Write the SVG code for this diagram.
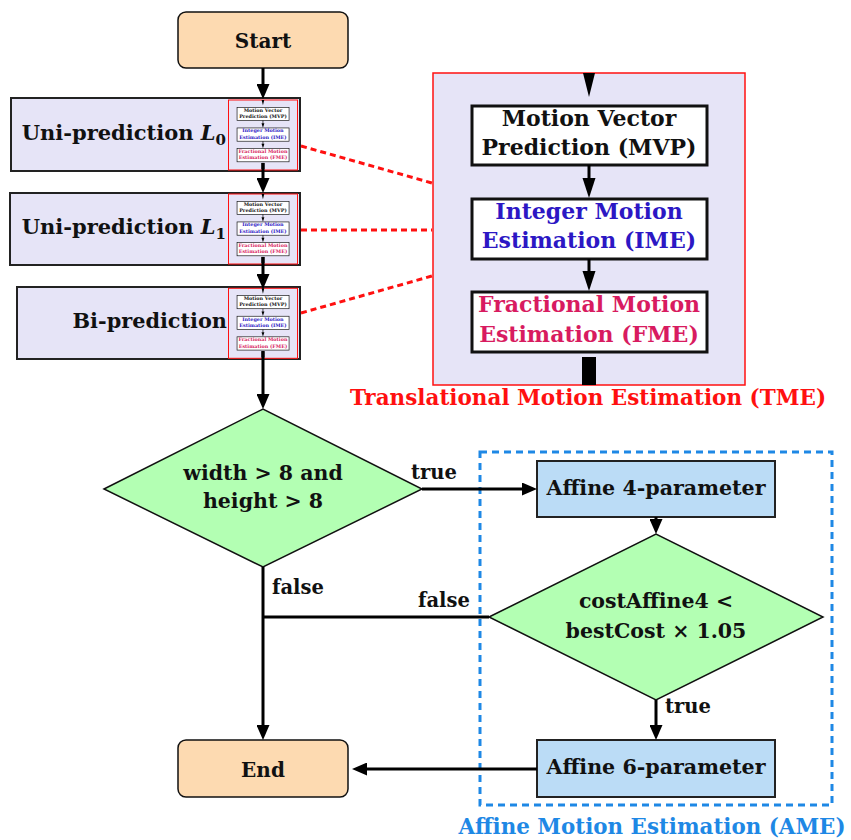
<svg xmlns="http://www.w3.org/2000/svg" xmlns:xlink="http://www.w3.org/1999/xlink" width="851" height="840" viewBox="0 0 851 840">
<style>
text{font-family:"DejaVu Serif","Liberation Serif",serif;font-weight:bold;fill:#111}
.c{text-anchor:middle}
.term{fill:#FDDAB1;stroke:#111;stroke-width:1.5}
.proc{fill:#E6E4F7;stroke:#222;stroke-width:2}
.dec{fill:#B3FFB3;stroke:#111;stroke-width:1.5}
.aff{fill:#BBDCF6;stroke:#222;stroke-width:2}
.wb{fill:#fff;stroke:#111;stroke-width:3}
.edge{fill:none;stroke:#000;stroke-width:3}
.red{fill:none;stroke:#FF1010;stroke-width:3;stroke-dasharray:6 4}
</style>
<defs>
<marker id="ah" markerUnits="userSpaceOnUse" markerWidth="15" markerHeight="13" viewBox="0 0 15 13" refX="3" refY="6.5" orient="auto">
<path d="M0,0 L15,6.5 L0,13 z" fill="#000"/>
</marker>
<g id="tme-inner">
<polygon points="583,73 595,73 589,97" fill="#000"/>
<rect class="wb" x="472" y="106" width="235" height="59"/>
<text class="c" x="589" y="126" font-size="22">Motion Vector</text>
<text class="c" x="589" y="155" font-size="22">Prediction (MVP)</text>
<line x1="589" y1="165" x2="589" y2="180" stroke="#000" stroke-width="3"/>
<polygon points="582.5,178 595.5,178 589,198" fill="#000"/>
<rect class="wb" x="472" y="199" width="235" height="60"/>
<text class="c" x="589" y="219" font-size="22" style="fill:#2C17C4">Integer Motion</text>
<text class="c" x="589" y="248" font-size="22" style="fill:#2C17C4">Estimation (IME)</text>
<line x1="589" y1="259" x2="589" y2="273" stroke="#000" stroke-width="3"/>
<polygon points="582.5,271 595.5,271 589,291" fill="#000"/>
<rect class="wb" x="472" y="292" width="235" height="60"/>
<text class="c" x="589" y="312" font-size="22" style="fill:#D81B60">Fractional Motion</text>
<text class="c" x="589" y="341.5" font-size="22" style="fill:#D81B60">Estimation (FME)</text>
<rect x="582" y="357" width="14" height="28" fill="#000"/>
</g>
</defs>

<g id="ame-group">
<rect x="480" y="452" width="352" height="353" fill="none" stroke="#1E88E5" stroke-width="3" stroke-dasharray="7 5"/>
<text class="c" x="652" y="834" font-size="21.4" style="fill:#1E88E5">Affine Motion Estimation (AME)</text>
</g>

<g id="start">
<rect class="term" x="178" y="12" width="170" height="56" rx="8"/>
<text class="c" x="263" y="48" font-size="20">Start</text>
</g>

<g id="uni-l0">
<rect class="proc" x="11" y="98" width="289" height="73"/>
<text x="226" y="140" font-size="21" text-anchor="end">Uni-prediction <tspan font-style="italic">L</tspan><tspan font-size="15" dy="5">0</tspan></text>
<rect x="228.5" y="100" width="69" height="70" fill="#E6E4F7" stroke="#FF1010" stroke-width="1"/>
<use xlink:href="#tme-inner" href="#tme-inner" transform="translate(132.6,83.9) scale(0.2213)"/>
</g>

<g id="uni-l1">
<rect class="proc" x="10" y="193" width="290" height="72"/>
<text x="226" y="234" font-size="21" text-anchor="end">Uni-prediction <tspan font-style="italic">L</tspan><tspan font-size="15" dy="5">1</tspan></text>
<rect x="228.5" y="194" width="69" height="70" fill="#E6E4F7" stroke="#FF1010" stroke-width="1"/>
<use xlink:href="#tme-inner" href="#tme-inner" transform="translate(132.6,177.9) scale(0.2213)"/>
</g>

<g id="bi">
<rect class="proc" x="17" y="287" width="283" height="72"/>
<text x="227" y="328" font-size="20.8" text-anchor="end">Bi-prediction</text>
<rect x="228.5" y="288.3" width="69" height="70" fill="#E6E4F7" stroke="#FF1010" stroke-width="1"/>
<use xlink:href="#tme-inner" href="#tme-inner" transform="translate(132.6,272.2) scale(0.2213)"/>
</g>

<g id="tme">
<rect x="433" y="73" width="312" height="312" fill="#E6E4F7" stroke="#FF1010" stroke-width="1.5"/>
<use xlink:href="#tme-inner" href="#tme-inner"/>
<text class="c" x="588" y="405" font-size="21.5" style="fill:#FF1010">Translational Motion Estimation (TME)</text>
</g>

<g id="cond1">
<polygon class="dec" points="104,489 263,409 422,489 263,567"/>
<text class="c" x="263" y="480" font-size="20.5">width &gt; 8 and</text>
<text class="c" x="263" y="508" font-size="20.5">height &gt; 8</text>
</g>

<g id="affine4">
<rect class="aff" x="537" y="461" width="238" height="56"/>
<text class="c" x="656" y="495" font-size="20.6">Affine 4-parameter</text>
</g>

<g id="cond2">
<polygon class="dec" points="489,617 656,534 823,617 656,700"/>
<text class="c" x="656" y="608" font-size="20.5">costAffine4 &lt;</text>
<text class="c" x="656" y="638" font-size="20.5">bestCost × 1.05</text>
</g>

<g id="affine6">
<rect class="aff" x="537" y="740" width="238" height="57"/>
<text class="c" x="656" y="774" font-size="20.6">Affine 6-parameter</text>
</g>

<g id="end">
<rect class="term" x="178" y="740" width="170" height="57" rx="8"/>
<text class="c" x="263" y="777" font-size="20">End</text>
</g>

<g id="connectors">
<path class="edge" d="M263,68 V87" marker-end="url(#ah)"/>
<path class="edge" d="M263,163 V181" marker-end="url(#ah)"/>
<path class="edge" d="M263,257 V277" marker-end="url(#ah)"/>
<path class="edge" d="M263,351 V397" marker-end="url(#ah)"/>
<path class="edge" d="M422,489 H525" marker-end="url(#ah)"/>
<path class="edge" d="M263,567 V728" marker-end="url(#ah)"/>
<path class="edge" d="M489,617 H263"/>
<path class="edge" d="M656,517 V522" marker-end="url(#ah)"/>
<path class="edge" d="M656,700 V728" marker-end="url(#ah)"/>
<path class="edge" d="M537,769 H364" marker-end="url(#ah)"/>
<path class="red" d="M301,146 L432,183"/>
<path class="red" d="M301,230 L432,230"/>
<path class="red" d="M301,313 L432,276"/>
<text x="411" y="479" font-size="19.5">true</text>
<text x="272" y="594" font-size="19.5">false</text>
<text x="418" y="607" font-size="19.5">false</text>
<text x="665" y="713" font-size="19.5">true</text>
</g>
</svg>
